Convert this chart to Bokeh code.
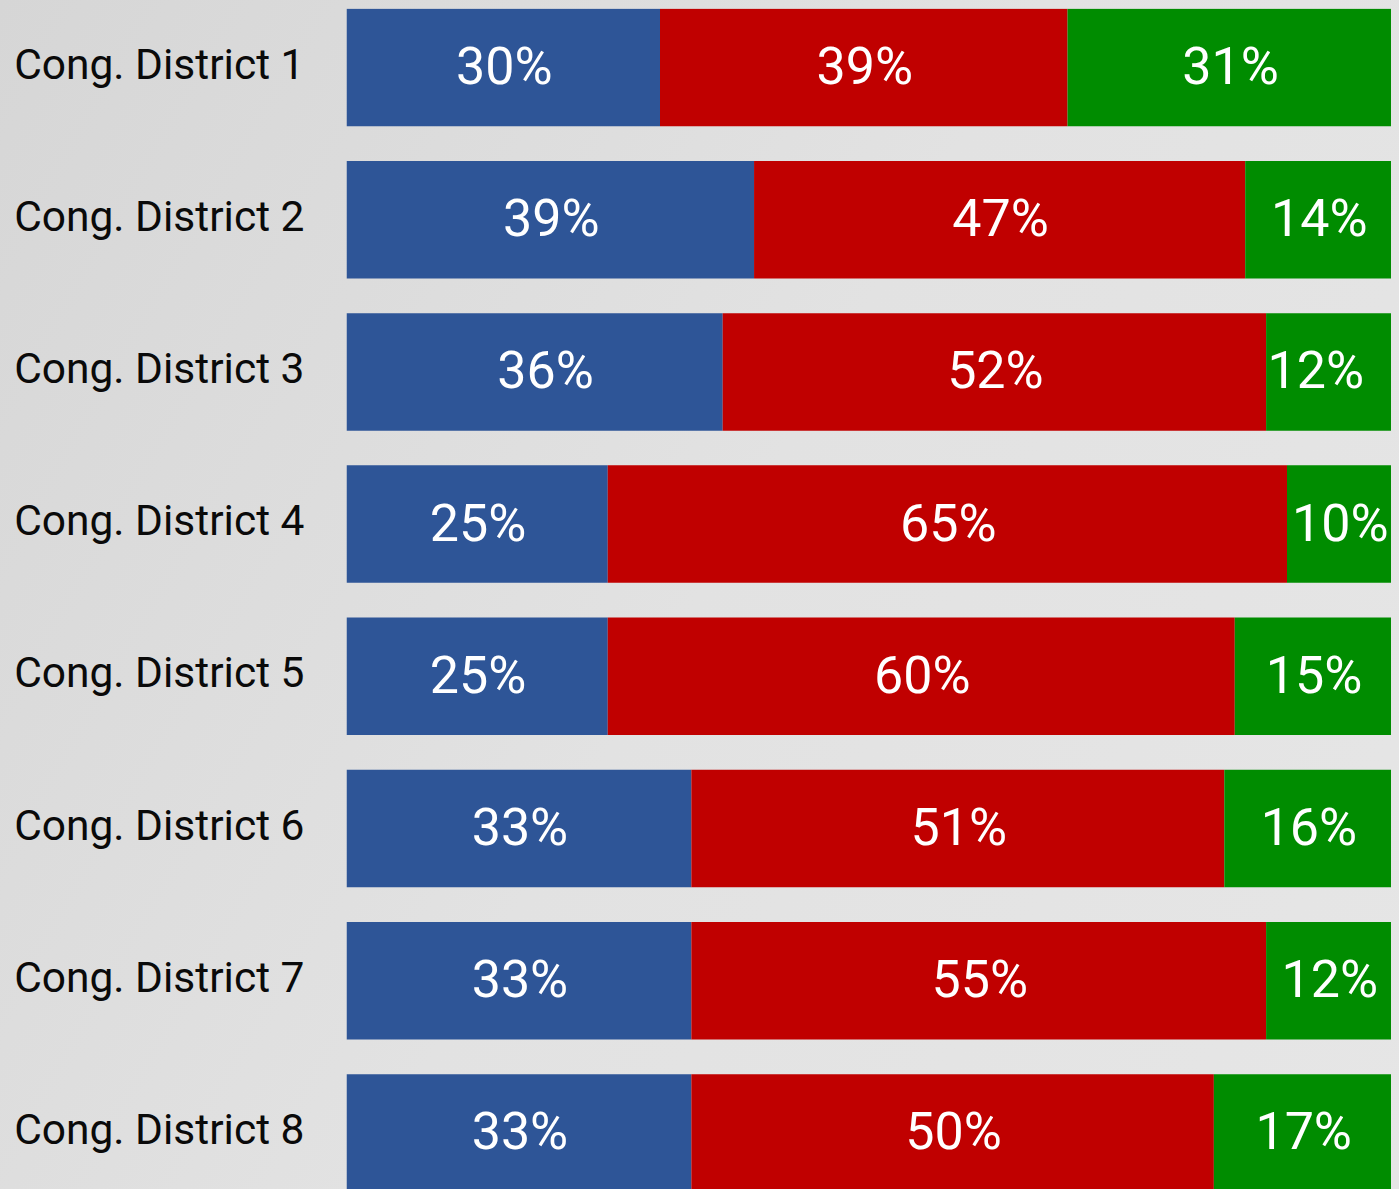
from bokeh.plotting import figure
from bokeh.models import Range1d, FixedTicker, ColumnDataSource
from bokeh.core.properties import value
from bokeh.embed import file_html
from bokeh.resources import INLINE

districts = ["Cong. District 1", "Cong. District 2", "Cong. District 3", "Cong. District 4",
             "Cong. District 5", "Cong. District 6", "Cong. District 7", "Cong. District 8"]
blue_vals = [30, 39, 36, 25, 25, 33, 33, 33]
red_vals = [39, 47, 52, 65, 60, 51, 55, 50]
green_vals = [31, 14, 12, 10, 15, 16, 12, 17]
series = [blue_vals, red_vals, green_vals]
colors = ["#2E5597", "#C00000", "#008C00"]
# small horizontal nudges (px) of the value labels, as placed in the original
nudges = [
    [0, 0, 10, 0, 0, 0, 0, 0],
    [0, 0, 0, 0, 0, 0, 0, 0],
    [0, 0, -14, 0, 0, 0, 0, 0],
]

pitch = 152.2
frame_h = 1181
top_off = 59.0
y_top = -top_off / pitch
y_bot = (frame_h - top_off) / pitch
bar_h = 117.5 / pitch

p = figure(width=1391, height=1189, output_backend="svg", toolbar_location=None,
           x_range=Range1d(0, 100), y_range=Range1d(y_bot, y_top),
           x_axis_location=None, y_axis_location="left",
           min_border_left=346, min_border_right=0, min_border_top=8, min_border_bottom=0)
p.background_fill_alpha = 0
p.border_fill_alpha = 0
p.outline_line_color = None
p.xgrid.visible = False
p.ygrid.visible = False

ys = list(range(len(districts)))
lefts = [0] * len(districts)
for vals, col, nud in zip(series, colors, nudges):
    rights = [l + v for l, v in zip(lefts, vals)]
    mids = [(l + r) / 2 for l, r in zip(lefts, rights)]
    src = ColumnDataSource(dict(y=ys, left=lefts, right=rights, mid=mids, dx=[n + 1 for n in nud],
                                lab=[f"{v}%" for v in vals]))
    p.hbar(y="y", left="left", right="right", height=bar_h, source=src,
           fill_color=col, line_color=None)
    p.text(x="mid", y="y", text="lab", source=src, text_color="white",
           text_font=value("Roboto"), text_font_size="52px", x_offset="dx",
           text_align="center", text_baseline="middle", y_offset=-1)
    lefts = rights

shift = 3.5 / pitch
tick_vals = [i - shift for i in ys]
ax = p.yaxis[0]
ax.ticker = FixedTicker(ticks=tick_vals)
ax.major_label_overrides = {t: d for t, d in zip(tick_vals, districts)}
ax.axis_line_color = None
ax.major_tick_line_color = None
ax.minor_tick_line_color = None
ax.major_tick_out = 0
ax.major_tick_in = 0
ax.major_label_standoff = 42
ax.major_label_text_font = "Roboto"
ax.major_label_text_font_size = "42.5px"
ax.major_label_text_color = "#0a0a0a"

html = file_html(p, INLINE)
html = html.replace("</head>", "<style>html,body{background:linear-gradient(120deg,#d6d6d6 0%,#e2e2e2 50%,#e6e6e6 100%) !important;overflow:hidden;}</style></head>", 1)
open("out.html", "w").write(html)
